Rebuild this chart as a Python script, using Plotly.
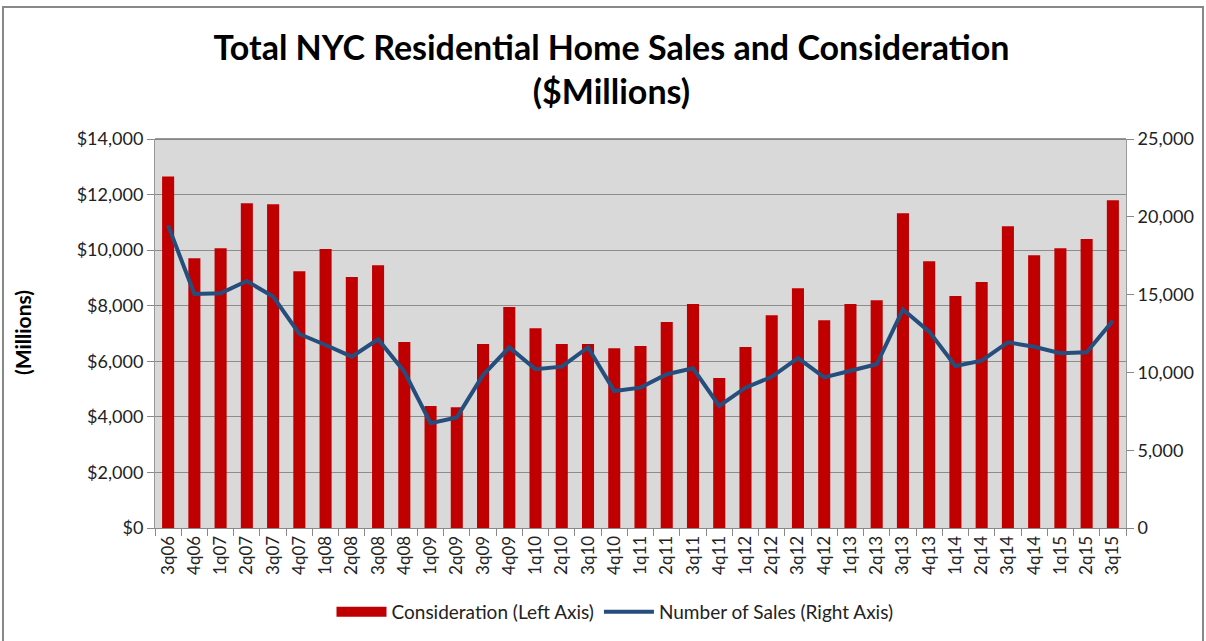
import plotly.graph_objects as go

quarters = ["3q06","4q06","1q07","2q07","3q07","4q07","1q08","2q08","3q08","4q08",
            "1q09","2q09","3q09","4q09","1q10","2q10","3q10","4q10","1q11","2q11",
            "3q11","4q11","1q12","2q12","3q12","4q12","1q13","2q13","3q13","4q13",
            "1q14","2q14","3q14","4q14","1q15","2q15","3q15"]

consideration = [12650, 9710, 10070, 11690, 11650, 9240, 10040, 9030, 9460, 6690,
                 4390, 4350, 6620, 7950, 7190, 6620, 6620, 6470, 6550, 7410,
                 8060, 5400, 6510, 7660, 8630, 7480, 8060, 8200, 11330, 9600,
                 8350, 8850, 10860, 9820, 10070, 10400, 11800]

num_sales = [19450, 15040, 15080, 15870, 14870, 12470, 11760, 11010, 12130, 10050,
             6730, 7110, 9830, 11610, 10200, 10370, 11610, 8800, 9020, 9880,
             10260, 7840, 9020, 9720, 10920, 9680, 10110, 10520, 14050, 12620,
             10410, 10750, 11930, 11650, 11230, 11290, 13320]

left_ticks = [0, 2000, 4000, 6000, 8000, 10000, 12000, 14000]
left_labels = ["$0", "$2,000", "$4,000", "$6,000", "$8,000", "$10,000", "$12,000", "$14,000"]
right_ticks = [0, 5000, 10000, 15000, 20000, 25000]
right_labels = ["0", "5,000", "10,000", "15,000", "20,000", "25,000"]

FONT = "Lato"
BAR_COLOR = "#C00000"
LINE_COLOR = "#254E7D"

fig = go.Figure()
fig.add_trace(go.Bar(x=quarters, y=consideration, name="Consideration (Left Axis)",
                     marker=dict(color=BAR_COLOR, line=dict(width=0)), yaxis="y",
                     showlegend=False))
# legend proxy for the bar series (wide rectangular swatch)
fig.add_trace(go.Scatter(x=[None], y=[None], name="Consideration (Left Axis)",
                         mode="lines", line=dict(color=BAR_COLOR, width=11), yaxis="y"))
fig.add_trace(go.Scatter(x=quarters, y=num_sales, name="Number of Sales (Right Axis)",
                         mode="lines", line=dict(color=LINE_COLOR, width=4), yaxis="y2"))

L, R, T, B = 155, 80, 139, 113
W, H = 1206, 641
pw, ph = W - L - R, H - T - B

def px_x(p):
    return (p - L) / pw

def px_y(p):
    return (H - B - p) / ph

fig.update_layout(
    width=W, height=H,
    margin=dict(l=L, r=R, t=T, b=B, autoexpand=False),
    paper_bgcolor="white",
    plot_bgcolor="#D9D9D9",
    bargap=0.54,
    font=dict(family=FONT, size=18, color="#222"),
    title=dict(text="<b>Total NYC Residential Home Sales and Consideration<br>($Millions)</b>",
               x=0.507, xanchor="center", y=1 - 60 / H, yanchor="middle",
               font=dict(family=FONT, size=34, color="black")),
    xaxis=dict(tickangle=-90, ticks="outside", tickson="boundaries", ticklen=7,
               tickcolor="#888", showline=True, linecolor="#888", linewidth=1,
               tickfont=dict(family=FONT, size=17, color="#222"), showgrid=False),
    yaxis=dict(range=[0, 14000], tickvals=left_ticks, ticktext=left_labels,
               showgrid=True, gridcolor="#8C8C8C", gridwidth=1,
               ticks="outside", ticklen=7, tickcolor="#888",
               showline=True, linecolor="#999", linewidth=1,
               tickfont=dict(family=FONT, size=18, color="#222"), zeroline=False),
    yaxis2=dict(range=[0, 25000], tickvals=right_ticks, ticktext=right_labels,
                overlaying="y", side="right", showgrid=False,
                ticks="outside", ticklen=7, tickcolor="#888",
                showline=True, linecolor="#999", linewidth=1,
                tickfont=dict(family=FONT, size=18, color="#222"), zeroline=False),
    legend=dict(orientation="h", x=px_x(615), xanchor="center", y=px_y(612), yanchor="middle",
                font=dict(family=FONT, size=19, color="#222"), bgcolor="rgba(0,0,0,0)",
                traceorder="normal", itemwidth=50, tracegroupgap=0),
    showlegend=True,
)

fig.add_annotation(text="<b>(Millions)</b>", xref="paper", yref="paper",
                   x=px_x(22), y=px_y(333), xanchor="center", yanchor="middle",
                   textangle=-90, showarrow=False,
                   font=dict(family=FONT, size=21, color="black"))

fig.add_shape(type="line", xref="paper", yref="paper", x0=0, x1=1, y0=1, y1=1,
              line=dict(color="#333", width=1))
fig.add_shape(type="rect", xref="paper", yref="paper",
              x0=px_x(3), x1=px_x(1203), y0=px_y(7), y1=px_y(660),
              line=dict(color="#888", width=2), fillcolor="rgba(0,0,0,0)", layer="below")

fig.write_html("out.html", config={"displayModeBar": False},
               post_script="document.body.style.margin='0px';")
